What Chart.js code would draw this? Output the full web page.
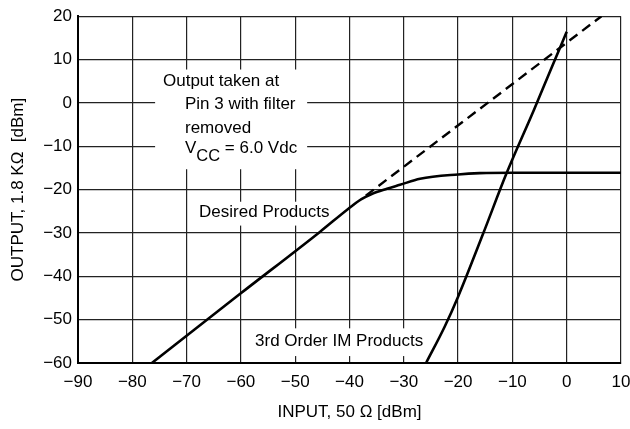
<!DOCTYPE html>
<html><head><meta charset="utf-8">
<script src="https://cdn.jsdelivr.net/npm/chart.js@4/dist/chart.umd.min.js"></script>
<style>html,body{margin:0;padding:0;background:#fff}#wrap{width:630px;height:429px}</style>
</head><body><div id="wrap"><canvas id="c" width="630" height="429"></canvas></div>
<script>
// Desired Products curve
const desiredX = [-76.4, -60.2, -45.4, -40.2, -37.8, -35.9, -33.1, -30.7, -27.0, -20.0, -16.0, -10.0, 0, 10];
const desiredY = [-60, -44.1, -29.7, -24.4, -22.2, -21.0, -19.8, -18.9, -17.5, -16.5, -16.2, -16.1, -16.1, -16.1];
// Extrapolated (dashed) line
const extrapX = [-37.0, 6.4];
const extrapY = [-21.4, 20.0];
// 3rd Order IM Products curve
const imX = [-25.9, -22.5, -20.0, -15.4, -11.1, -6.0, -3.0, 0.0];
const imY = [-60, -51.7, -44.7, -30.2, -16.3, -1.5, 7.5, 16.4];
// Ticks
const xTicks = [-90, -80, -70, -60, -50, -40, -30, -20, -10, 0, 10];
const xTickLabels = ['\u221290', '\u221280', '\u221270', '\u221260', '\u221250', '\u221240', '\u221230', '\u221220', '\u221210', '0', '10'];
const yTicks = [-60, -50, -40, -30, -20, -10, 0, 10, 20];
const yTickLabels = ['\u221260', '\u221250', '\u221240', '\u221230', '\u221220', '\u221210', '0', '10', '20'];
// Annotation text (data-space anchors: left x, middle y)
const noteTexts = ['Output taken at', 'Pin 3 with filter', 'removed', 'VCC', 'Desired Products', '3rd Order IM Products'];
const noteX = [-74.35, -70.3, -70.3, -70.3, -67.7, -57.4];
const noteY = [5.0, -0.44, -5.9, -10.4, -25.3, -54.9];
// White masks behind labels (data-space rectangles: x0, x1, y0, y1)
const maskX0 = [-75.8, -68.8, -58.3];
const maskX1 = [-47.8, -42.5, -25.2];
const maskY0 = [7.7, -22.8, -52.0];
const maskY1 = [-15.3, -28.3, -58.4];

const FONT = '"Liberation Sans", Arial, Helvetica, sans-serif';
const zip = (xs, ys) => xs.map((x, i) => ({x, y: ys[i]}));

const notesPlugin = {
  id: 'notes',
  beforeDatasetsDraw(chart) {
    const {ctx, scales: {x, y}} = chart;
    ctx.save();
    ctx.fillStyle = '#fff';
    for (let i = 0; i < maskX0.length; i++) {
      const l = x.getPixelForValue(maskX0[i]), r = x.getPixelForValue(maskX1[i]);
      const t = y.getPixelForValue(maskY0[i]), b = y.getPixelForValue(maskY1[i]);
      ctx.fillRect(l, t, r - l, b - t);
    }
    ctx.fillStyle = '#000';
    ctx.font = '17px ' + FONT;
    ctx.textBaseline = 'middle';
    ctx.textAlign = 'left';
    for (let i = 0; i < noteTexts.length; i++) {
      const px = x.getPixelForValue(noteX[i]);
      const py = y.getPixelForValue(noteY[i]);
      if (noteTexts[i] === 'VCC') {
        ctx.fillText('V', px, py);
        let cx = px + ctx.measureText('V').width;
        ctx.font = '16.5px ' + FONT;
        ctx.fillText('CC', cx, py + 8.5);
        cx += ctx.measureText('CC').width;
        ctx.font = '17px ' + FONT;
        ctx.fillText(' = 6.0 Vdc', cx, py);
      } else {
        ctx.fillText(noteTexts[i], px, py);
      }
    }
    ctx.restore();
  }
};

new Chart(document.getElementById('c'), {
  type: 'line',
  data: {
    datasets: [
      {data: zip(desiredX, desiredY), borderColor: '#000', borderWidth: 2.6, pointRadius: 0, fill: false, cubicInterpolationMode: 'monotone'},
      {data: zip(extrapX, extrapY), borderColor: '#000', borderWidth: 2.4, borderDash: [10, 6], pointRadius: 0, fill: false},
      {data: zip(imX, imY), borderColor: '#000', borderWidth: 2.6, pointRadius: 0, fill: false, cubicInterpolationMode: 'monotone'}
    ]
  },
  options: {
    responsive: false,
    devicePixelRatio: 1,
    animation: false,
    layout: {padding: {top: 12, right: 9, bottom: 0, left: 0}},
    plugins: {legend: {display: false}, tooltip: {enabled: false}},
    scales: {
      x: {
        type: 'linear', min: -90, max: 10,
        afterFit(s) { s.height = 66; s.paddingLeft = 0; s.paddingRight = 0; },
        afterBuildTicks(s) { s.ticks = xTicks.map(v => ({value: v})); },
        grid: {color: '#222', lineWidth: 1.2, drawTicks: false},
        border: {display: true, color: '#000', width: 2},
        ticks: {padding: 9, color: '#000', font: {family: FONT, size: 17}, maxRotation: 0, autoSkip: false,
          callback: (v) => xTickLabels[xTicks.indexOf(v)]},
        title: {display: true, text: 'INPUT, 50 \u03A9 [dBm]', color: '#000', font: {family: FONT, size: 17}, padding: {top: 0, bottom: 6}}
      },
      y: {
        type: 'linear', min: -60, max: 20,
        afterFit(s) { s.width = 78; },
        afterBuildTicks(s) { s.ticks = yTicks.map(v => ({value: v})); },
        grid: {color: '#222', lineWidth: 1.2, drawTicks: false},
        border: {display: true, color: '#000', width: 2},
        ticks: {padding: 6, color: '#000', font: {family: FONT, size: 17}, autoSkip: false,
          callback: (v) => yTickLabels[yTicks.indexOf(v)]},
        title: {display: true, text: 'OUTPUT, 1.8 K\u03A9  [dBm]', color: '#000', font: {family: FONT, size: 17}, padding: {top: 8, bottom: 0}}
      }
    }
  },
  plugins: [notesPlugin]
});
</script>
</body></html>
